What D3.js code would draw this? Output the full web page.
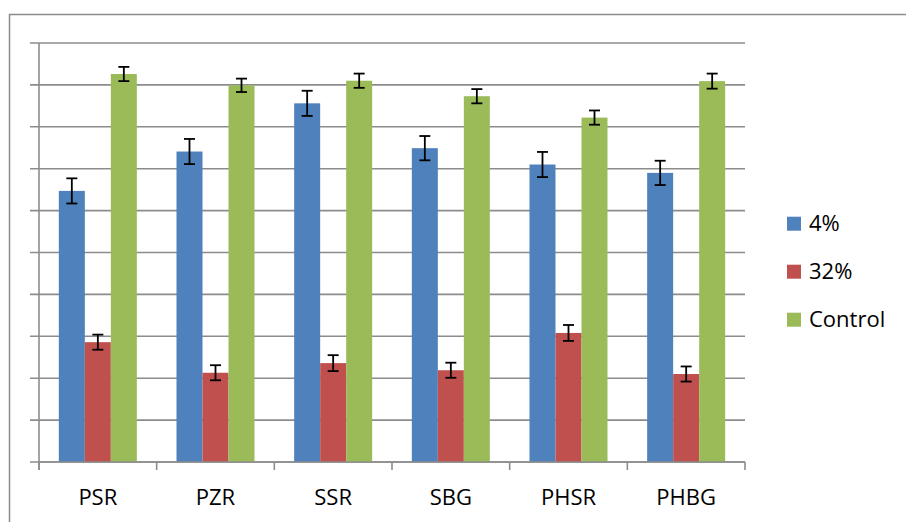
<!DOCTYPE html>
<html><head><meta charset="utf-8">
<script src="https://cdn.jsdelivr.net/npm/d3@7"></script>
<style>body{margin:0;background:#fff}svg{display:block}</style>
</head><body>
<svg id="c" width="906" height="522"></svg>
<script>
const categories = ["PSR","PZR","SSR","SBG","PHSR","PHBG"];
const seriesNames = ["4%","32%","Control"];
const colors = ["#4F81BD","#C0504D","#9BBB59"];
const v4 = [6.47,7.41,8.56,7.49,7.10,6.90];
const v32 = [2.86,2.13,2.36,2.19,3.08,2.10];
const vCtrl = [9.26,8.99,9.10,8.73,8.22,9.09];
const e4 = [0.30,0.30,0.30,0.29,0.30,0.29];
const e32 = [0.18,0.18,0.19,0.18,0.19,0.18];
const eCtrl = [0.17,0.16,0.17,0.17,0.17,0.18];
const yTicks = [0,1,2,3,4,5,6,7,8,9,10];

const values = [v4, v32, vCtrl];
const errs = [e4, e32, eCtrl];
const svg = d3.select("#c");
const L=39, R=745, T=43, B=462;
const FONT = "'Open Sans', 'Liberation Sans', Arial, sans-serif";
// outer frame
svg.append("rect").attr("x",9.5).attr("y",14.5).attr("width",1000).attr("height",1000)
  .attr("fill","none").attr("stroke","#8c8c8c").attr("stroke-width",1.5);

const x0 = d3.scaleBand().domain(categories).range([L,R]).paddingInner(0.337).paddingOuter(0.1685);
const x1 = d3.scaleBand().domain(seriesNames).range([0,x0.bandwidth()]);
const y = d3.scaleLinear().domain([0,10]).range([B,T]);

// gridlines
svg.append("g").selectAll("line").data(yTicks).join("line")
  .attr("x1",30).attr("x2",R).attr("y1",d=>y(d)).attr("y2",d=>y(d))
  .attr("stroke","#8c8c8c").attr("stroke-width",1.6);
// y axis line
svg.append("line").attr("x1",L).attr("x2",L).attr("y1",T).attr("y2",B+8)
  .attr("stroke","#8c8c8c").attr("stroke-width",1.6);
// x category boundary ticks
const bounds = d3.range(categories.length+1).map(i=>L+i*(R-L)/categories.length);
svg.append("g").selectAll("line").data(bounds).join("line")
  .attr("x1",d=>d).attr("x2",d=>d).attr("y1",B).attr("y2",B+8)
  .attr("stroke","#8c8c8c").attr("stroke-width",1.6);

// bars
const data = [];
categories.forEach((c,i)=>seriesNames.forEach((s,j)=>data.push({c,s,j,v:values[j][i],e:errs[j][i]})));
svg.append("g").selectAll("rect").data(data).join("rect")
  .attr("x",d=>x0(d.c)+x1(d.s)).attr("width",x1.bandwidth())
  .attr("y",d=>y(d.v)).attr("height",d=>B-y(d.v))
  .attr("fill",d=>colors[d.j]);
// baseline over bars
svg.append("line").attr("x1",L).attr("x2",R).attr("y1",B).attr("y2",B)
  .attr("stroke","#8c8c8c").attr("stroke-width",1.6);

// error bars
const eg = svg.append("g").attr("stroke","#000").attr("stroke-width",1.8);
data.forEach(d=>{
  const cx = x0(d.c)+x1(d.s)+x1.bandwidth()/2;
  eg.append("line").attr("x1",cx).attr("x2",cx).attr("y1",y(d.v+d.e)).attr("y2",y(d.v-d.e));
  [d.v+d.e,d.v-d.e].forEach(t=>eg.append("line").attr("x1",cx-5.5).attr("x2",cx+5.5).attr("y1",y(t)).attr("y2",y(t)));
});

// category labels
svg.append("g").selectAll("text").data(categories).join("text")
  .attr("x",d=>x0(d)+x0.bandwidth()/2).attr("y",505)
  .attr("text-anchor","middle").attr("font-family",FONT)
  .attr("font-size",22).attr("fill","#000").text(d=>d);

// legend
const lg = svg.append("g");
seriesNames.forEach((s,i)=>{
  const cy = 223.7 + i*48;
  lg.append("rect").attr("x",787).attr("y",cy-7).attr("width",14).attr("height",14).attr("fill",colors[i]);
  lg.append("text").attr("x",809).attr("y",cy+7.5).attr("font-family",FONT)
    .attr("font-size",22).attr("fill","#000").text(s);
});
</script>
</body></html>
